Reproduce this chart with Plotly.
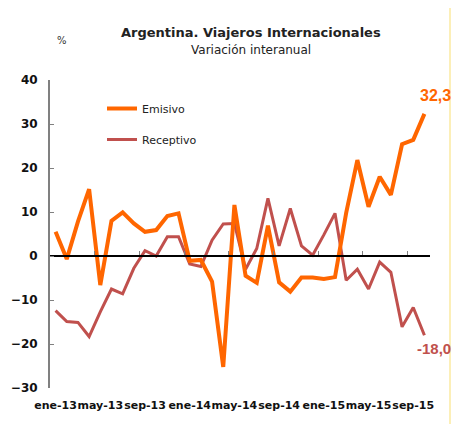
import plotly.graph_objects as go

months = ["ene-13","feb-13","mar-13","abr-13","may-13","jun-13","jul-13","ago-13","sep-13","oct-13","nov-13","dic-13",
          "ene-14","feb-14","mar-14","abr-14","may-14","jun-14","jul-14","ago-14","sep-14","oct-14","nov-14","dic-14",
          "ene-15","feb-15","mar-15","abr-15","may-15","jun-15","jul-15","ago-15","sep-15","oct-15"]
emisivo = [5.5, -0.7, 7.8, 15.2, -6.6, 8.0, 9.9, 7.4, 5.5, 5.9, 9.1, 9.7,
           -1.1, -0.9, -5.8, -25.2, 11.6, -4.5, -6.1, 6.9, -6.0, -8.1, -4.9, -4.9,
           -5.2, -4.8, 9.8, 21.8, 11.2, 18.0, 13.9, 25.4, 26.4, 32.3]
receptivo = [-12.4, -14.9, -15.1, -18.3, -12.7, -7.5, -8.6, -2.8, 1.2, 0.0, 4.4, 4.4,
             -1.8, -2.4, 3.6, 7.3, 7.4, -3.0, 1.7, 13.1, 2.3, 10.8, 2.3, 0.2,
             4.8, 9.7, -5.5, -3.0, -7.5, -1.4, -3.7, -16.1, -11.7, -18.0]
tick_labels = ["ene-13","may-13","sep-13","ene-14","may-14","sep-14","ene-15","may-15","sep-15"]

ORANGE = "#FF6600"
RED = "#C0504D"
FONT = "DejaVu Sans"

# the page body has an 8px margin; figure drawn at (8,8)
OFF = 8
W, H = 459 - 2 * OFF, 432 - 2 * OFF
PL, PR, PT, PB = 50 - OFF, 430 - OFF, 80 - OFF, 388 - OFF   # plot area in figure pixels
PW, PH = PR - PL, PB - PT


def px(xabs):
    return (xabs - OFF - PL) / PW


def py(yabs):
    return (PB - (yabs - OFF)) / PH


idx = list(range(len(months)))
label_pos = [i for i in idx if months[i] in tick_labels]
boundaries = [i - 0.5 for i in label_pos[1:]]

fig = go.Figure()
# invisible trace to activate the zero axis
fig.add_trace(go.Scatter(x=idx, y=receptivo, xaxis="x2", mode="lines", opacity=0,
                         showlegend=False, hoverinfo="skip"))
fig.add_trace(go.Scatter(x=idx, y=receptivo, mode="lines", name="Receptivo", legendrank=2,
                         legendgroup="b", line=dict(color=RED, width=3), hoverinfo="skip"))
fig.add_trace(go.Scatter(x=idx, y=emisivo, mode="lines", name="Emisivo", legendrank=1,
                         legendgroup="a", line=dict(color=ORANGE, width=4), hoverinfo="skip"))

fig.add_annotation(x=idx[-1], y=emisivo[-1], text="<b>%s</b>" % f"{emisivo[-1]:.1f}".replace(".", ","),
                   showarrow=False, xanchor="center", yanchor="bottom", xshift=11, yshift=8,
                   font=dict(family="Liberation Sans", size=16, color=ORANGE))
fig.add_annotation(x=idx[-1], y=receptivo[-1], text="<b>%s</b>" % f"{receptivo[-1]:.1f}".replace(".", ","),
                   showarrow=False, xanchor="center", yanchor="top", xshift=10, yshift=-3,
                   font=dict(family="Liberation Sans", size=15, color=RED))
fig.add_annotation(xref="paper", yref="paper", x=px(62), y=py(41), text="%", showarrow=False,
                   xanchor="center", yanchor="middle", font=dict(family=FONT, size=10, color="#333333"))
fig.add_annotation(xref="paper", yref="paper", x=px(251), y=py(33), showarrow=False,
                   xanchor="center", yanchor="middle", text="<b>Argentina. Viajeros Internacionales</b>",
                   font=dict(family=FONT, size=13, color="#222222"))
fig.add_annotation(xref="paper", yref="paper", x=px(251), y=py(50), showarrow=False,
                   xanchor="center", yanchor="middle", text="Variación interanual",
                   font=dict(family=FONT, size=12, color="#222222"))

fig.update_layout(
    width=W, height=H,
    margin=dict(l=PL, r=W - PR, t=PT, b=H - PB, autoexpand=False),
    paper_bgcolor="white", plot_bgcolor="rgba(0,0,0,0)",
    showlegend=True,
    legend=dict(x=px(102), y=py(94), xanchor="left", yanchor="top", bgcolor="rgba(0,0,0,0)",
                font=dict(family=FONT, size=11, color="#222222"), tracegroupgap=12,
                itemwidth=30, traceorder="grouped"),
    xaxis=dict(range=[-0.5, len(months) - 0.5], tickmode="array", tickvals=label_pos,
               ticktext=["<b>%s</b>" % t for t in tick_labels], tickangle=0, ticklabelstandoff=9,
               showgrid=False, zeroline=False, showline=False, ticks="",
               tickfont=dict(family=FONT, size=11, color="#111111"), fixedrange=True),
    xaxis2=dict(range=[-0.5, len(months) - 0.5], overlaying="x", anchor="free", position=30/70,
                tickmode="array", tickvals=boundaries, showticklabels=False, ticks="inside", ticklen=4,
                tickcolor="#808080", showline=True, linecolor="black", linewidth=1.5, showgrid=False,
                zeroline=False, fixedrange=True),
    yaxis=dict(range=[-30, 40], dtick=10, showgrid=False, zeroline=False, showline=True,
               linecolor="#808080", linewidth=2, ticks="inside", ticklen=4, tickcolor="#808080",
               ticklabelstandoff=8,
               tickfont=dict(family=FONT, size=12, color="#111111"), tickprefix="<b>", ticksuffix="</b>",
               fixedrange=True),
)

# background accent on the right edge
fig.add_shape(type="rect", xref="paper", yref="paper", x0=px(449), x1=px(460),
              y0=py(433), y1=py(7), fillcolor="#FCEFB8", line_width=0, layer="below")

fig.write_html("out.html")
